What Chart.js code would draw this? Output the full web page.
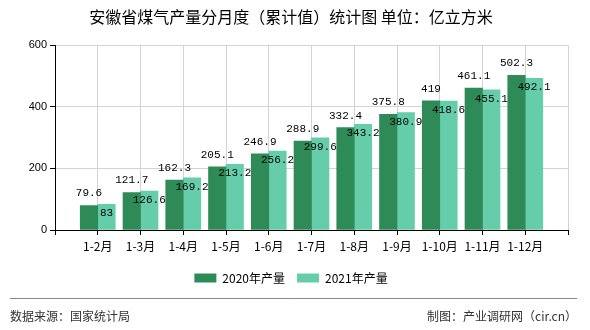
<!DOCTYPE html>
<html>
<head>
<meta charset="utf-8">
<script src="https://cdn.jsdelivr.net/npm/chart.js@4.4.0/dist/chart.umd.min.js"></script>
<style>
html, body { margin: 0; padding: 0; background: #fff; }
#box { width: 590px; height: 330px; position: relative; }
</style>
</head>
<body>
<div id="box"><canvas id="myChart"></canvas></div>
<script>
// 安徽省煤气产量 累计值（亿立方米）
var months = ['1-2月', '1-3月', '1-4月', '1-5月', '1-6月', '1-7月', '1-8月', '1-9月', '1-10月', '1-11月', '1-12月'];
var output2020 = [79.6, 121.7, 162.3, 205.1, 246.9, 288.9, 332.4, 375.8, 419, 461.1, 502.3];
var output2021 = [83, 126.6, 169.2, 213.2, 256.2, 299.6, 343.2, 380.9, 418.6, 455.1, 492.1];
var yTicks = [0, 200, 400, 600];
var seriesNames = ['2020年产量', '2021年产量'];
var titleText = '安徽省煤气产量分月度（累计值）统计图 单位：亿立方米';
var sourceText = '数据来源：国家统计局';
var makerText = '制图：产业调研网（cir.cn）';

var CJK = '"Noto Sans CJK SC", "Noto Sans", sans-serif';

// 两端各留一个空位，柱子落在刻度上
function pad(arr) {
    return [null].concat(arr, [null]);
}
var xLabels = [''].concat(months, ['']);

// 柱子上的数值
var valueLabels = {
    id: 'valueLabels',
    afterDatasetsDraw: function(chart) {
        var ctx = chart.ctx;
        ctx.save();
        ctx.font = '11px "Liberation Mono", "DejaVu Sans Mono", monospace';
        ctx.fillStyle = '#000';
        ctx.textAlign = 'center';
        ctx.textBaseline = 'middle';
        chart.data.datasets.forEach(function(ds, i) {
            var meta = chart.getDatasetMeta(i);
            meta.data.forEach(function(bar, j) {
                var v = ds.data[j];
                if (v === null) return;
                var y = i === 0 ? bar.y - 12 : bar.y + 9;
                ctx.fillText(String(v), bar.x, y);
            });
        });
        ctx.restore();
    }
};

// 底部分隔线和来源
var footer = {
    id: 'footer',
    afterDraw: function(chart) {
        var ctx = chart.ctx;
        ctx.save();
        ctx.strokeStyle = '#888';
        ctx.lineWidth = 1;
        ctx.beginPath();
        ctx.moveTo(10, 298.5);
        ctx.lineTo(577, 298.5);
        ctx.stroke();
        ctx.font = '12px ' + CJK;
        ctx.fillStyle = '#333';
        ctx.textBaseline = 'middle';
        ctx.textAlign = 'left';
        ctx.fillText(sourceText, 10, 316);
        ctx.textAlign = 'right';
        ctx.fillText(makerText, 577, 316);
        ctx.restore();
    }
};

function initChart() {
    var el = document.getElementById('myChart');
    var myChart = new Chart(el, {
        type: 'bar',
        data: {
            labels: xLabels,
            datasets: [{
                label: seriesNames[0],
                data: pad(output2020),
                backgroundColor: '#2e8b57',
                borderWidth: 0,
                barThickness: 17.5
            }, {
                label: seriesNames[1],
                data: pad(output2021),
                backgroundColor: '#66cdaa',
                borderWidth: 0,
                barThickness: 17.5
            }]
        },
        options: {
            responsive: true,
            maintainAspectRatio: false,
            animation: false,
            layout: {
                padding: { left: 14, right: 22, top: 0, bottom: 36 }
            },
            scales: {
                x: {
                    offset: false,
                    grid: {
                        offset: false,
                        color: '#d3d3d3',
                        tickColor: '#000',
                        tickLength: 5
                    },
                    border: { color: '#000', width: 1 },
                    ticks: {
                        color: '#000',
                        font: { family: CJK, size: 12 },
                        maxRotation: 0,
                        autoSkip: false,
                        padding: 4
                    },
                    afterFit: function(scale) { scale.height = 30; }
                },
                y: {
                    min: 0,
                    max: 600,
                    afterBuildTicks: function(scale) {
                        scale.ticks = yTicks.map(function(v) { return { value: v }; });
                    },
                    grid: {
                        color: '#d3d3d3',
                        tickColor: '#000',
                        tickLength: 5
                    },
                    border: { color: '#000', width: 1 },
                    ticks: {
                        color: '#000',
                        font: { family: '"Liberation Sans", sans-serif', size: 11 },
                        padding: 3
                    },
                    afterFit: function(scale) { scale.width = 41; }
                }
            },
            plugins: {
                title: {
                    display: true,
                    text: titleText,
                    color: '#000',
                    font: { family: CJK, size: 16, weight: 'normal' },
                    padding: { top: 7, bottom: 19 }
                },
                legend: {
                    position: 'bottom',
                    labels: {
                        boxWidth: 22,
                        boxHeight: 9,
                        color: '#000',
                        padding: 12,
                        font: { family: CJK, size: 12 }
                    }
                },
                tooltip: { enabled: false }
            }
        },
        plugins: [valueLabels, footer]
    });
}

initChart();
</script>
</body>
</html>
